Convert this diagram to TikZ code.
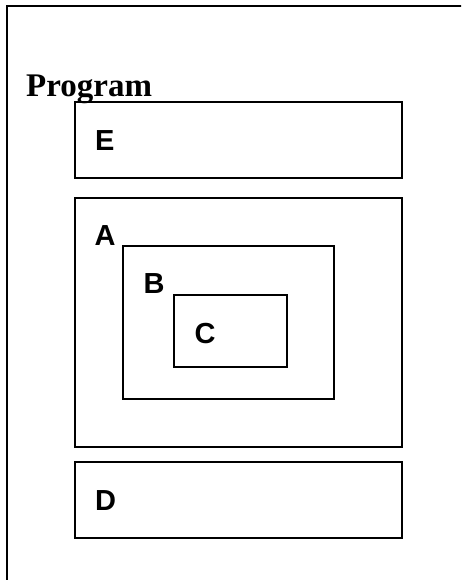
\documentclass[tikz,border=0pt]{standalone}
\usepackage{fontspec}
\setmainfont{Liberation Serif}
\newfontfamily\labelfont{Liberation Sans}
\begin{document}
\begin{tikzpicture}[x=1pt,y=-1pt,
  box/.style={draw, line width=1.7pt, rectangle, inner sep=0pt, outer sep=0pt, anchor=north west},
  lbl/.style={inner sep=0pt, anchor=base west, font=\labelfont\bfseries\fontsize{29}{29}\selectfont},
  title/.style={inner sep=0pt, anchor=base west, font=\bfseries\fontsize{33}{33}\selectfont}]
  \useasboundingbox (0,0) rectangle (461,580);
  \clip (0,0) rectangle (461,580);
  \fill[white] (0,0) rectangle (461,580);
  % page frame (left and top edges visible)
  \coordinate (fb) at (6.5,600);
  \coordinate (fc) at (6.5,6.5);
  \coordinate (fr) at (480,6.5);
  \draw[line width=2pt] (fb) -- (fc) -- (fr);
  % boxes
  \node[box, minimum width=326.7pt, minimum height=76pt] (E) at (75,102) {};
  \node[box, minimum width=326.7pt, minimum height=249pt] (A) at (75,197.7) {};
  \node[box, minimum width=211.3pt, minimum height=153pt] (B) at (122.7,246) {};
  \node[box, minimum width=112.4pt, minimum height=71.7pt] (C) at (174.3,295) {};
  \node[box, minimum width=326.7pt, minimum height=76pt] (D) at (75,462) {};
  % labels
  \node[title] (prog) at (26,96.7) {Program};
  \node[lbl] (lE) at (95,150) {E};
  \node[lbl] (lA) at (94.5,245.7) {A};
  \node[lbl] (lB) at (143.5,293.3) {B};
  \node[lbl] (lC) at (194.5,343.3) {C};
  \node[lbl] (lD) at (95,510.7) {D};
\end{tikzpicture}
\end{document}
